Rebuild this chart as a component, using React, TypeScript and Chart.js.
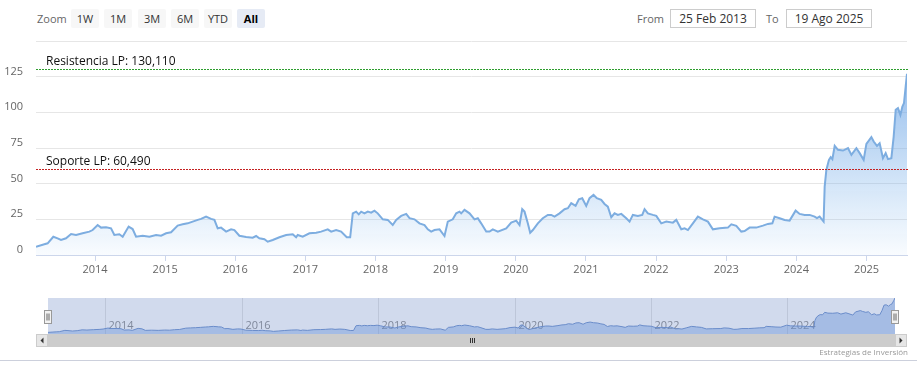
import React, { useEffect, useRef } from 'react';
import { Chart, registerables } from 'chart.js';
Chart.register(...registerables);

// Decimal-year dates and closing values
const dates = [
  2013.158, 2013.277, 2013.324, 2013.405, 2013.466, 2013.515, 2013.586, 2013.658, 2013.729, 2013.823, 2013.919, 2013.966,
  2014.037, 2014.086, 2014.157, 2014.228, 2014.275, 2014.347, 2014.394, 2014.479, 2014.536, 2014.585, 2014.679, 2014.775, 2014.870, 2014.942,
  2015.013, 2015.084, 2015.178, 2015.250, 2015.321, 2015.392, 2015.464, 2015.512, 2015.583, 2015.655, 2015.702, 2015.749, 2015.797, 2015.869, 2015.940, 2015.987,
  2016.058, 2016.154, 2016.248, 2016.297, 2016.343, 2016.415, 2016.462, 2016.534, 2016.629, 2016.725, 2016.819, 2016.867, 2016.890, 2016.961,
  2017.057, 2017.153, 2017.224, 2017.318, 2017.367, 2017.438, 2017.509, 2017.589, 2017.638, 2017.675, 2017.723, 2017.760, 2017.795, 2017.842, 2017.889, 2017.937, 2017.984,
  2018.031, 2018.103, 2018.174, 2018.245, 2018.294, 2018.365, 2018.437, 2018.484, 2018.555, 2018.626, 2018.698, 2018.745, 2018.793, 2018.840, 2018.912, 2018.983,
  2019.030, 2019.101, 2019.150, 2019.197, 2019.221, 2019.268, 2019.340, 2019.411, 2019.458, 2019.506, 2019.578, 2019.625, 2019.672, 2019.743, 2019.863, 2019.934,
  2020.006, 2020.053, 2020.091, 2020.124, 2020.171, 2020.205, 2020.243, 2020.314, 2020.385, 2020.456, 2020.505, 2020.552, 2020.623, 2020.695, 2020.742, 2020.790, 2020.852, 2020.899, 2020.947,
  2021.004, 2021.051, 2021.108, 2021.155, 2021.218, 2021.265, 2021.312, 2021.361, 2021.408, 2021.455, 2021.504, 2021.575, 2021.622, 2021.669, 2021.740, 2021.803, 2021.836, 2021.883, 2021.954,
  2022.003, 2022.074, 2022.146, 2022.240, 2022.288, 2022.359, 2022.407, 2022.454, 2022.525, 2022.596, 2022.668, 2022.739, 2022.810, 2022.906,
  2023.024, 2023.073, 2023.144, 2023.215, 2023.262, 2023.334, 2023.429, 2023.524, 2023.595, 2023.658, 2023.690, 2023.762, 2023.833, 2023.904, 2023.990,
  2024.047, 2024.118, 2024.190, 2024.261, 2024.294, 2024.332, 2024.389, 2024.404, 2024.428, 2024.465, 2024.490, 2024.514, 2024.547, 2024.594, 2024.665, 2024.737, 2024.785, 2024.856, 2024.903, 2024.960, 2024.999,
  2025.070, 2025.103, 2025.150, 2025.188, 2025.235, 2025.274, 2025.307, 2025.355, 2025.388, 2025.417, 2025.449, 2025.484, 2025.512, 2025.535, 2025.559, 2025.578,
];

const values = [
  5.8, 7.5, 8.2, 12.8, 11.7, 10.5, 11.7, 14.7, 14.0, 15.2, 16.4, 17.5,
  21.0, 19.2, 19.4, 18.7, 14.0, 14.5, 12.8, 19.9, 18.2, 12.8, 13.5, 12.8, 14.0, 13.5,
  15.2, 15.9, 20.6, 21.5, 22.2, 23.4, 24.6, 25.3, 26.9, 25.3, 24.6, 18.7, 19.2, 16.4, 18.0, 17.5,
  13.5, 12.6, 12.1, 13.3, 11.7, 11.0, 9.3, 10.5, 12.4, 14.0, 14.5, 12.4, 14.0, 12.8,
  15.2, 15.6, 16.4, 18.0, 16.4, 17.5, 16.4, 12.4, 12.4, 29.2, 30.4, 28.5, 30.4, 29.2, 30.4, 29.7, 31.1,
  29.2, 25.0, 24.6, 21.0, 24.6, 27.4, 28.8, 25.8, 25.0, 22.2, 21.0, 18.0, 16.4, 17.5, 18.0, 13.3,
  23.4, 25.0, 29.2, 30.4, 29.2, 31.6, 29.2, 25.0, 25.8, 22.2, 16.4, 16.4, 18.0, 16.4, 18.7, 22.7,
  24.1, 21.0, 32.1, 30.4, 22.2, 15.6, 17.5, 22.2, 25.8, 28.1, 28.1, 26.9, 29.2, 32.1, 32.8, 36.3, 34.4, 39.1, 39.8,
  34.4, 39.8, 42.1, 39.8, 38.6, 35.8, 33.9, 26.5, 29.2, 28.1, 28.8, 25.8, 23.4, 28.1, 27.4, 28.1, 32.1, 29.2, 28.1,
  27.4, 22.2, 23.4, 22.7, 24.6, 18.0, 18.7, 17.5, 22.2, 26.9, 25.0, 23.4, 18.0, 18.7,
  19.2, 21.5, 20.4, 16.4, 16.8, 19.2, 19.2, 20.6, 21.8, 22.2, 26.9, 25.8, 24.6, 24.1, 31.1,
  28.8, 28.1, 28.1, 26.9, 25.8, 26.9, 23.4, 47.9, 59.6, 66.7, 68.6, 67.2, 76.5, 73.7, 73.2, 74.9, 70.2, 74.9, 71.4, 66.7, 77.9,
  82.6, 79.5, 76.5, 78.4, 67.9, 71.4, 67.2, 67.9, 83.0, 101.8, 103.0, 98.2, 104.0, 106.5, 118.0, 127.0,
];

const yearTicks = [2014, 2015, 2016, 2017, 2018, 2019, 2020, 2021, 2022, 2023, 2024, 2025];
const navYearTicks = [2014, 2016, 2018, 2020, 2022, 2024];
const yTicks = [0, 25, 50, 75, 100, 125, 150];
const yTickLabels = ['0', '25', '50', '75', '100', '125', ''];
const plotLineValues = [130.11, 60.49];
const plotLineLabels = ['Resistencia LP: 130,110', 'Soporte LP: 60,490'];
const zoomButtons = ['1W', '1M', '3M', '6M', 'YTD', 'All'];
const fromDate = '25 Feb 2013';
const toDate = '19 Ago 2025';
const creditText = 'Estrategias de Inversión';

const FONT = '"Open Sans", Arial, sans-serif';
const plotLineColors = ['#2e9e2e', '#c42222'];

const points = dates.map((d, i) => ({ x: d, y: values[i] }));

const plotLinesPlugin = {
  id: 'plotLinesPlugin',
  afterDatasetsDraw(chart: any) {
    const { ctx, chartArea } = chart;
    const ys = chart.scales.y;
    plotLineValues.forEach((v, i) => {
      const y = Math.round(ys.getPixelForValue(v));
      ctx.save();
      ctx.fillStyle = plotLineColors[i];
      for (let x = Math.round(chartArea.left); x < chartArea.right; x += 3) {
        ctx.fillRect(x, y, 2, 1);
      }
      ctx.restore();
      ctx.save();
      ctx.fillStyle = '#111';
      ctx.font = `12px ${FONT}`;
      ctx.textAlign = 'left';
      ctx.textBaseline = 'alphabetic';
      ctx.fillText(plotLineLabels[i], chartArea.left + 10, y - 4);
      ctx.restore();
    });
  },
};

const navigatorPlugin = {
  id: 'navigatorPlugin',
  beforeDatasetsDraw(chart: any) {
    const { ctx, chartArea } = chart;
    const xs = chart.scales.x;
    ctx.save();
    ctx.strokeStyle = '#e2e2e2';
    ctx.lineWidth = 1;
    navYearTicks.forEach((yr) => {
      const x = Math.round(xs.getPixelForValue(yr)) + 0.5;
      ctx.beginPath();
      ctx.moveTo(x, chartArea.top);
      ctx.lineTo(x, chartArea.bottom);
      ctx.stroke();
      ctx.fillStyle = '#8a8a8a';
      ctx.font = `11px ${FONT}`;
      ctx.textAlign = 'left';
      ctx.textBaseline = 'middle';
      ctx.fillText(String(yr), x + 3, chartArea.bottom - 8);
    });
    ctx.restore();
  },
  afterDatasetsDraw(chart: any) {
    const { ctx, chartArea } = chart;
    const { left, right, top, bottom } = chartArea;
    ctx.save();
    ctx.fillStyle = 'rgba(102,133,194,0.3)';
    ctx.fillRect(left, top, right - left, bottom - top);
    const drawHandle = (cx: number) => {
      const x0 = Math.round(cx - 4) + 0.5;
      const y0 = top + 12.5;
      ctx.fillStyle = '#f2f2f2';
      ctx.strokeStyle = '#999';
      ctx.lineWidth = 1;
      ctx.fillRect(x0, y0, 7, 13);
      ctx.strokeRect(x0, y0, 7, 13);
      ctx.strokeStyle = '#666';
      ctx.beginPath();
      ctx.moveTo(x0 + 2.5, y0 + 3);
      ctx.lineTo(x0 + 2.5, y0 + 10);
      ctx.moveTo(x0 + 4.5, y0 + 3);
      ctx.lineTo(x0 + 4.5, y0 + 10);
      ctx.stroke();
    };
    drawHandle(left);
    drawHandle(right);
    const sy = bottom;
    const sh = 13;
    ctx.fillStyle = '#cccccc';
    ctx.fillRect(left, sy, right - left, sh);
    const btn = (x: number, dir: number) => {
      ctx.fillStyle = '#e6e6e6';
      ctx.fillRect(x, sy, 12, sh);
      ctx.strokeStyle = '#cccccc';
      ctx.strokeRect(x + 0.5, sy + 0.5, 11, sh - 1);
      ctx.fillStyle = '#333';
      ctx.beginPath();
      const cx = x + 6;
      const cy = sy + sh / 2;
      ctx.moveTo(cx - 1.5 * dir, cy);
      ctx.lineTo(cx + 1.5 * dir, cy - 3);
      ctx.lineTo(cx + 1.5 * dir, cy + 3);
      ctx.closePath();
      ctx.fill();
    };
    btn(left - 12, 1);
    btn(right, -1);
    const gx = Math.round((left + right) / 2);
    ctx.strokeStyle = '#333';
    ctx.beginPath();
    [-2, 0, 2].forEach((d) => {
      ctx.moveTo(gx + d + 0.5, sy + 4);
      ctx.lineTo(gx + d + 0.5, sy + 9);
    });
    ctx.stroke();
    ctx.restore();
  },
};

export default function App() {
  const mainRef = useRef<HTMLCanvasElement>(null);
  const navRef = useRef<HTMLCanvasElement>(null);

  useEffect(() => {
    document.body.style.margin = '0';
    const xMin = dates[0];
    const xMax = dates[dates.length - 1];
    const main = new Chart(mainRef.current as HTMLCanvasElement, {
      type: 'line',
      data: {
        datasets: [
          {
            data: points,
            borderColor: '#7dade0',
            borderWidth: 2,
            pointRadius: 0,
            tension: 0,
            fill: 'origin',
            backgroundColor: (c: any) => {
              const { chart } = c;
              const area = chart.chartArea;
              if (!area) return 'rgba(124,181,236,0.3)';
              const g = chart.ctx.createLinearGradient(0, area.top, 0, area.bottom);
              g.addColorStop(0, 'rgba(105,160,228,0.85)');
              g.addColorStop(1, 'rgba(124,181,236,0.05)');
              return g;
            },
          },
        ],
      },
      options: {
        animation: false,
        responsive: false,
        maintainAspectRatio: false,
        layout: { padding: { left: 0, right: 10, top: 11, bottom: 0 } },
        plugins: { legend: { display: false }, tooltip: { enabled: false } },
        scales: {
          x: {
            type: 'linear',
            min: xMin,
            max: xMax,
            afterBuildTicks: (s: any) => {
              s.ticks = yearTicks.map((v) => ({ value: v }));
            },
            afterFit: (s: any) => {
              s.height = 25;
              s.paddingLeft = 0;
              s.paddingRight = 0;
            },
            ticks: {
              autoSkip: false,
              maxRotation: 0,
              padding: 2,
              color: '#666',
              font: { family: FONT, size: 11 },
              callback: (v: any) => String(v),
            },
            grid: { drawOnChartArea: false, drawTicks: true, tickLength: 6, color: '#ccd6eb' },
            border: { display: true, color: '#ccd6eb' },
          },
          y: {
            min: 0,
            max: 150,
            afterBuildTicks: (s: any) => {
              s.ticks = yTicks.map((v) => ({ value: v }));
            },
            afterFit: (s: any) => {
              s.width = 36;
              s.paddingTop = 0;
              s.paddingBottom = 0;
            },
            ticks: {
              padding: 13,
              labelOffset: -5,
              color: '#666',
              font: { family: FONT, size: 11 },
              callback: (v: any) => {
                const i = yTicks.indexOf(Number(v));
                return i >= 0 ? yTickLabels[i] : '';
              },
            },
            grid: { color: '#e6e6e6', drawTicks: false },
            border: { display: false },
          },
        },
      },
      plugins: [plotLinesPlugin],
    } as any);

    const nav = new Chart(navRef.current as HTMLCanvasElement, {
      type: 'line',
      data: {
        datasets: [
          {
            data: points,
            borderColor: '#6b8fcc',
            borderWidth: 1,
            pointRadius: 0,
            tension: 0,
            fill: 'origin',
            backgroundColor: 'rgba(100,150,225,0.4)',
          },
        ],
      },
      options: {
        animation: false,
        responsive: false,
        maintainAspectRatio: false,
        layout: { padding: { left: 48, right: 22, top: 8, bottom: 18 } },
        plugins: { legend: { display: false }, tooltip: { enabled: false } },
        scales: {
          x: { type: 'linear', display: false, min: xMin, max: xMax },
          y: { display: false, min: 0, max: Math.max(...values) },
        },
      },
      plugins: [navigatorPlugin],
    } as any);

    return () => {
      main.destroy();
      nav.destroy();
    };
  }, []);

  const btnLefts = [71, 104, 138, 171, 204, 237];

  return (
    <div style={{ position: 'absolute', left: 0, top: 0, width: 917, height: 380, overflow: 'hidden', background: '#fff', fontFamily: FONT }}>
      <div style={{ position: 'absolute', left: 37, top: 9, height: 19, lineHeight: '19px', fontSize: 11, color: '#666' }}>Zoom</div>
      {zoomButtons.map((b, i) => (
        <div
          key={b}
          style={{
            position: 'absolute',
            left: btnLefts[i],
            top: 9,
            width: 28,
            height: 19,
            lineHeight: '19px',
            textAlign: 'center',
            fontSize: 11,
            borderRadius: 2,
            background: b === 'All' ? '#e6ebf5' : '#f7f7f7',
            color: b === 'All' ? '#000' : '#333',
            fontWeight: b === 'All' ? 700 : 400,
          }}
        >
          {b}
        </div>
      ))}
      <div style={{ position: 'absolute', left: 637, top: 9, height: 19, lineHeight: '19px', fontSize: 11, color: '#666' }}>From</div>
      <div style={{ position: 'absolute', left: 670, top: 9, width: 86, height: 19, boxSizing: 'border-box', border: '1px solid #cccccc', lineHeight: '17px', textAlign: 'center', fontSize: 12, color: '#333' }}>{fromDate}</div>
      <div style={{ position: 'absolute', left: 766, top: 9, height: 19, lineHeight: '19px', fontSize: 11, color: '#666' }}>To</div>
      <div style={{ position: 'absolute', left: 786, top: 9, width: 86, height: 19, boxSizing: 'border-box', border: '1px solid #cccccc', lineHeight: '17px', textAlign: 'center', fontSize: 12, color: '#333' }}>{toDate}</div>
      <canvas ref={mainRef} width={917} height={250} style={{ position: 'absolute', left: 0, top: 30, width: 917, height: 250 }} />
      <canvas ref={navRef} width={917} height={62} style={{ position: 'absolute', left: 0, top: 290, width: 917, height: 62 }} />
      <div style={{ position: 'absolute', right: 9, top: 346, fontSize: 8, lineHeight: '11px', color: '#999', whiteSpace: 'nowrap' }}>{creditText}</div>
      <div style={{ position: 'absolute', left: 0, top: 360, width: 917, height: 1, background: '#ccd0dc' }} />
    </div>
  );
}
